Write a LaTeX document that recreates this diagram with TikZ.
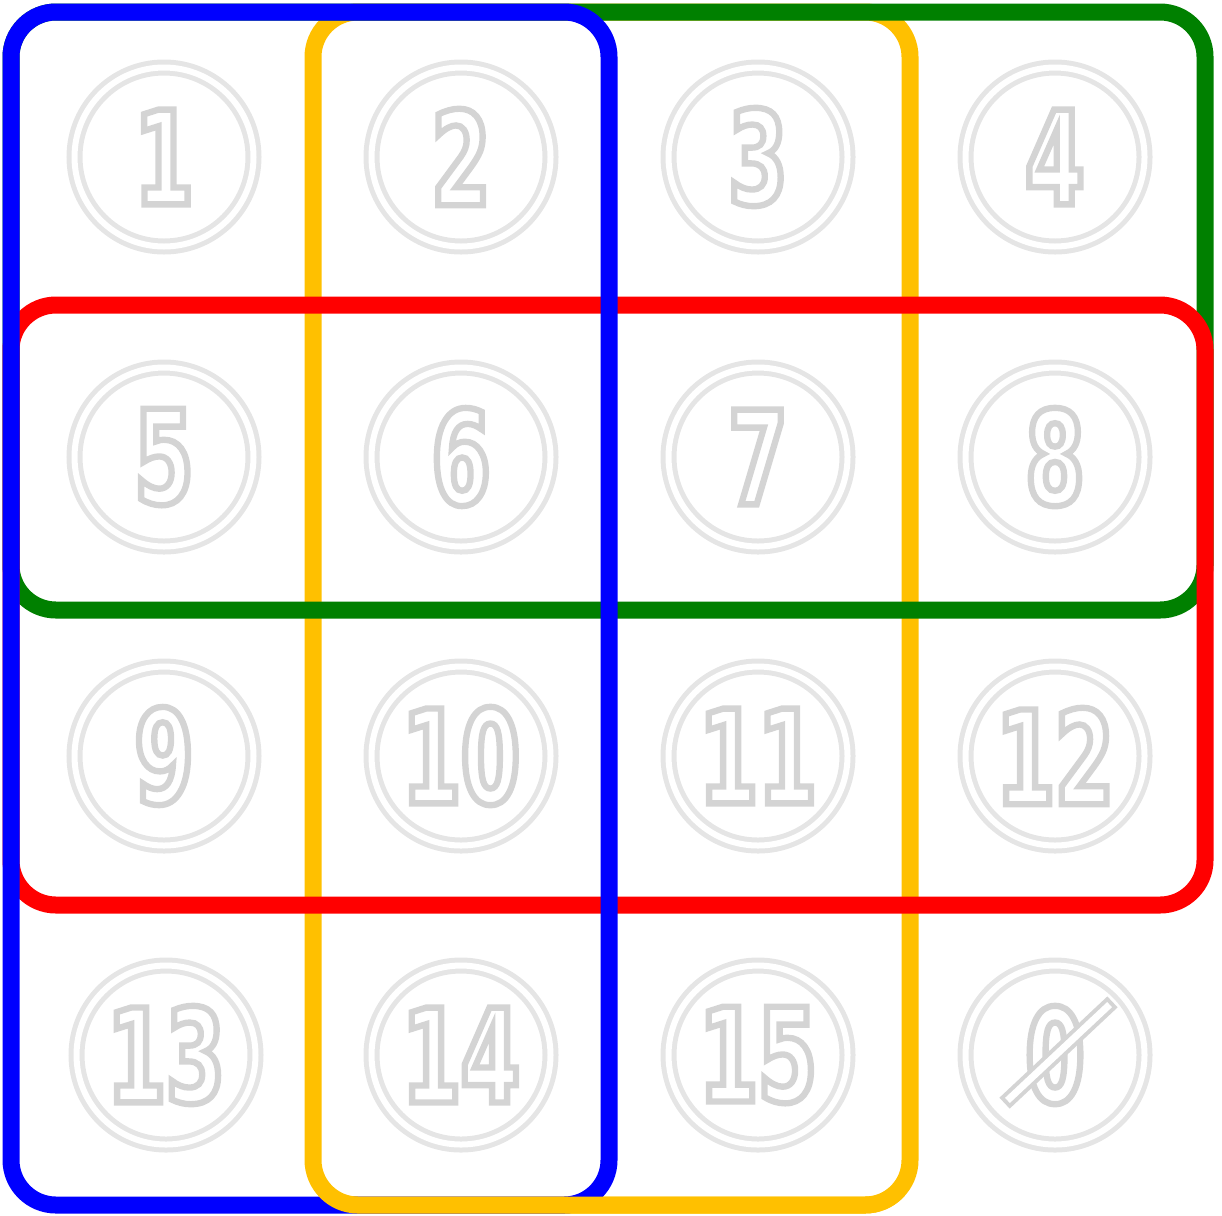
\documentclass[tikz,border=0pt]{standalone}
\usepackage{fontspec}
\newfontfamily\digitfont{DejaVu Sans}[FakeStretch=0.65]
\usetikzlibrary{positioning}

\definecolor{kblue}{RGB}{0,0,255}
\definecolor{kyellow}{RGB}{255,192,0}
\definecolor{kgreen}{RGB}{0,128,0}
\definecolor{kred}{RGB}{255,0,0}
\definecolor{ringgray}{RGB}{229,229,229}
\definecolor{digitgray}{RGB}{212,212,212}

% stroke-only text (outlined digits)
\newcommand{\outlined}[1]{\special{pdf:literal direct 1 Tr 1.8 w}#1\special{pdf:literal direct 0 Tr}}

\begin{document}
\begin{tikzpicture}[
  cell/.style={circle, draw=ringgray, line width=0.05cm, double=white, double distance=0.06cm,
               minimum size=1.79cm, inner sep=0pt, text=digitgray,
               font=\digitfont\bfseries\fontsize{37}{37}\selectfont},
  loop/.style={line width=0.17cm, rounded corners=0.45cm},
]
\useasboundingbox (0,0) rectangle (12.22,-12.15);

\node[cell] (n1)  at (1.64,-1.57)  {\outlined{1}};
\node[cell] (n2)  at (4.61,-1.57)  {\outlined{2}};
\node[cell] (n3)  at (7.58,-1.57)  {\outlined{3}};
\node[cell] (n4)  at (10.55,-1.57) {\outlined{4}};
\node[cell] (n5)  at (1.64,-4.57)  {\outlined{5}};
\node[cell] (n6)  at (4.61,-4.57)  {\outlined{6}};
\node[cell] (n7)  at (7.58,-4.57)  {\outlined{7}};
\node[cell] (n8)  at (10.55,-4.57) {\outlined{8}};
\node[cell] (n9)  at (1.64,-7.56)  {\outlined{9}};
\node[cell] (n10) at (4.61,-7.56)  {\outlined{10}};
\node[cell] (n11) at (7.58,-7.56)  {\outlined{11}};
\node[cell] (n12) at (10.55,-7.56) {\outlined{12}};
\node[cell] (n13) at (1.66,-10.55) {\outlined{13}};
\node[cell] (n14) at (4.61,-10.55) {\outlined{14}};
\node[cell] (n15) at (7.58,-10.55) {\outlined{15}};
\node[cell] (n16) at (10.55,-10.55){\outlined{0}};

\coordinate (s1) at ([shift={(-0.45,-0.43)}]n16.center);
\coordinate (s2) at ([shift={(0.52,0.48)}]n16.center);
\draw[draw=digitgray, line width=0.04cm, double=white, double distance=0.07cm, line cap=rect] (s1) -- (s2);

\draw[loop, kyellow] (3.13,-0.12) rectangle (9.10,-12.05);
\draw[loop, kgreen]  (0.11,-0.12) rectangle (12.05,-6.10);
\draw[loop, kred]    (0.11,-3.05) rectangle (12.05,-9.05);
\draw[loop, kblue]   (0.11,-0.12) rectangle (6.09,-12.05);

\begin{scope}
  \clip (0,-11.96) rectangle (12.22,-12.15);
  \draw[loop, kyellow] (3.13,-0.12) rectangle (9.10,-12.05);
\end{scope}

\end{tikzpicture}
\end{document}
